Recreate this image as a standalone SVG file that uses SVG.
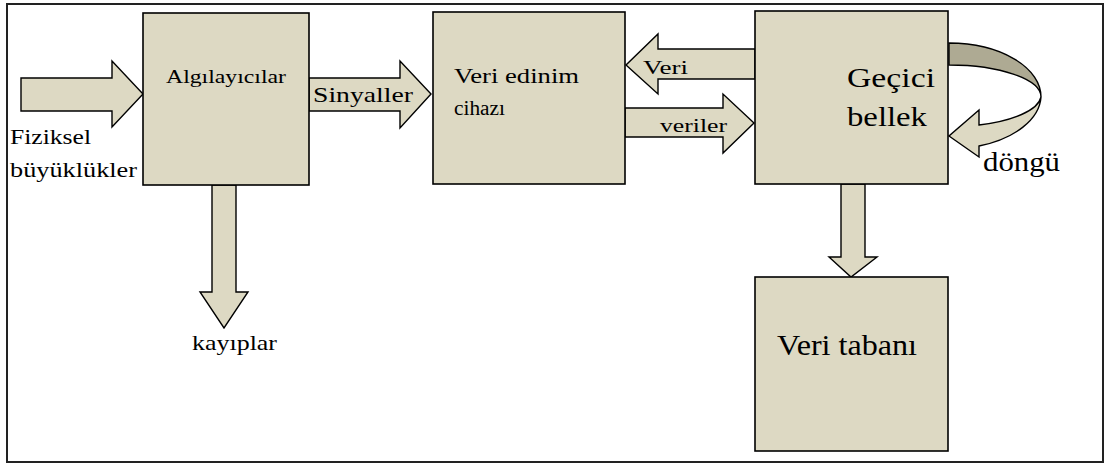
<svg xmlns="http://www.w3.org/2000/svg" width="1105" height="465" viewBox="0 0 1105 465">
<style>
.box{fill:#ddd9c3;stroke:#000;stroke-width:1.6}
.arr{fill:#ddd9c3;stroke:#000;stroke-width:1.4;stroke-linejoin:miter}
.dark{fill:#aeaa93;stroke:#000;stroke-width:1.4}
text{font-family:"Liberation Serif","Times New Roman",serif;fill:#000}
</style>
<rect x="7" y="4" width="1096" height="458" fill="#fff" stroke="#222" stroke-width="2"/>
<g id="connectors">
<path class="arr" d="M21,78 L112,78 L112,61 L143,94 L112,127 L112,111 L21,111 Z"/>
<path class="arr" d="M309,78 L400,78 L400,61 L431,94 L400,128 L400,111 L309,111 Z"/>
<path class="arr" d="M755,49 L658,49 L658,34 L626,65 L658,94 L658,79 L755,79 Z"/>
<path class="arr" d="M625,108 L723,108 L723,94 L754,123 L723,153 L723,137 L625,137 Z"/>
<path class="arr" d="M212,185 L236,185 L236,292 L248,292 L224,328 L200,292 L212,292 Z"/>
<path class="arr" d="M841,184 L865,184 L865,257 L877,257 L851,277 L829,257 L841,257 Z"/>
<path class="dark" d="M949,43 A92,54 0 0 1 1041,97 A92,32 0 0 0 949,65 Z"/>
<path class="arr" d="M1041,97 A92,54 0 0 1 979,146 L979,157 L949,136 L979,110 L979,125 A92,32 0 0 0 1041,97 Z"/>
<text x="313" y="102" font-size="21" textLength="100" lengthAdjust="spacingAndGlyphs">Sinyaller</text>
<text x="643" y="74" font-size="19" textLength="45" lengthAdjust="spacingAndGlyphs">Veri</text>
<text x="660" y="132" font-size="19" textLength="67" lengthAdjust="spacingAndGlyphs">veriler</text>
<text x="983" y="171" font-size="27" textLength="77" lengthAdjust="spacingAndGlyphs">döngü</text>
<text x="192" y="350" font-size="22" textLength="85" lengthAdjust="spacingAndGlyphs">kayıplar</text>
<text x="10" y="144" font-size="22" textLength="81" lengthAdjust="spacingAndGlyphs">Fiziksel</text>
<text x="10" y="177" font-size="22" textLength="127" lengthAdjust="spacingAndGlyphs">büyüklükler</text>
</g>
<g id="algilayicilar">
<rect class="box" x="143" y="13" width="166" height="172"/>
<text x="166" y="83" font-size="19" textLength="120" lengthAdjust="spacingAndGlyphs">Algılayıcılar</text>
</g>
<g id="veri-edinim">
<rect class="box" x="433" y="12" width="192" height="172"/>
<text x="454" y="83" font-size="20" textLength="125" lengthAdjust="spacingAndGlyphs">Veri edinim</text>
<text x="454" y="115" font-size="20" textLength="51" lengthAdjust="spacingAndGlyphs">cihazı</text>
</g>
<g id="gecici-bellek">
<rect class="box" x="755" y="11" width="193" height="173"/>
<text x="847" y="87" font-size="27" textLength="88" lengthAdjust="spacingAndGlyphs">Geçici</text>
<text x="847" y="126" font-size="27" textLength="80" lengthAdjust="spacingAndGlyphs">bellek</text>
</g>
<g id="veri-tabani">
<rect class="box" x="755" y="277" width="193" height="174"/>
<text x="777" y="355" font-size="29" textLength="140" lengthAdjust="spacingAndGlyphs">Veri tabanı</text>
</g>
</svg>
